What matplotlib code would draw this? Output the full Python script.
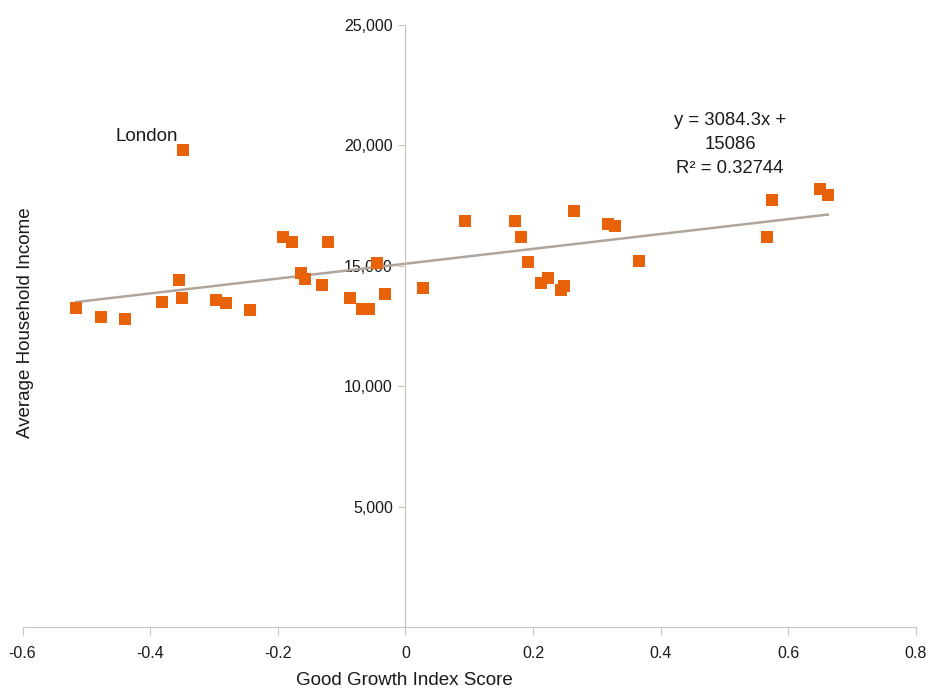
import matplotlib.pyplot as plt
from matplotlib.ticker import FuncFormatter

# Good Growth Index score vs average household income
growth_score = [-0.516, -0.477, -0.439, -0.381, -0.355, -0.350, -0.348, -0.297,
                -0.281, -0.243, -0.191, -0.178, -0.164, -0.158, -0.131, -0.121,
                -0.087, -0.068, -0.057, -0.044, -0.032, 0.028, 0.093, 0.172,
                0.181, 0.192, 0.212, 0.223, 0.244, 0.249, 0.264, 0.318, 0.328,
                0.366, 0.566, 0.574, 0.650, 0.662]
household_income = [13260, 12890, 12770, 13480, 14400, 13650, 19790, 13560,
                    13450, 13150, 16210, 16000, 14720, 14470, 14190, 15970,
                    13680, 13220, 13220, 15100, 13810, 14090, 16880, 16880,
                    16180, 15140, 14280, 14490, 13980, 14150, 17260, 16720,
                    16640, 15210, 16210, 17720, 18170, 17920]

slope = 3084.3
intercept = 15086
r_squared = 0.32744

plt.rcParams['font.family'] = ['Liberation Sans', 'DejaVu Sans']

fig = plt.figure(figsize=(9.26, 6.89), dpi=100)
ax = fig.add_axes([0.0243, 0.090, 0.9647, 0.8737])

ax.scatter(growth_score, household_income, marker='s', s=70, color='#e8620a',
           linewidths=0, zorder=3)

# linear trendline over the data range
x0, x1 = min(growth_score), max(growth_score)
ax.plot([x0, x1], [slope*x0 + intercept, slope*x1 + intercept],
        color='#b0a49b', lw=1.8, zorder=2)

ax.set_xlim(-0.6, 0.8)
ax.set_ylim(0, 25000)

for s in ['top', 'right']:
    ax.spines[s].set_visible(False)
ax.spines['left'].set_position(('data', 0))
ax.spines['left'].set_color('#c9c2bb')
ax.spines['bottom'].set_color('#c9c2bb')

ax.set_xticks([-0.6, -0.4, -0.2, 0, 0.2, 0.4, 0.6, 0.8])
ax.xaxis.set_major_formatter(FuncFormatter(lambda v, p: '0' if abs(v) < 1e-9 else f'{v:g}'))
ax.set_yticks([5000, 10000, 15000, 20000, 25000])
ax.yaxis.set_major_formatter(FuncFormatter(lambda v, p: f'{v:,.0f}'))
ax.tick_params(axis='both', colors='#c9c2bb', labelcolor='#1a1a1a', labelsize=11.5)
ax.tick_params(axis='x', length=6, pad=8)
ax.tick_params(axis='y', length=5, pad=4)

# x label sits under the zero line rather than the middle of the axes
ax.set_xlabel('Good Growth Index Score', fontsize=13.5, color='#1a1a1a')
ax.xaxis.set_label_coords(0.428, -0.074)
fig.text(0.027, 0.531, 'Average Household Income', rotation=90, fontsize=13.5,
         ha='center', va='center', color='#1a1a1a')

ax.text(-0.406, 20370, 'London', fontsize=13.5, ha='center', va='center', color='#1a1a1a')
ax.text(0.509, 20030, f'y = {slope}x +\n{intercept}\nR² = {r_squared}', fontsize=13.3,
        ha='center', va='center', linespacing=1.55, color='#1a1a1a')

fig.savefig('out.png', dpi=100)
